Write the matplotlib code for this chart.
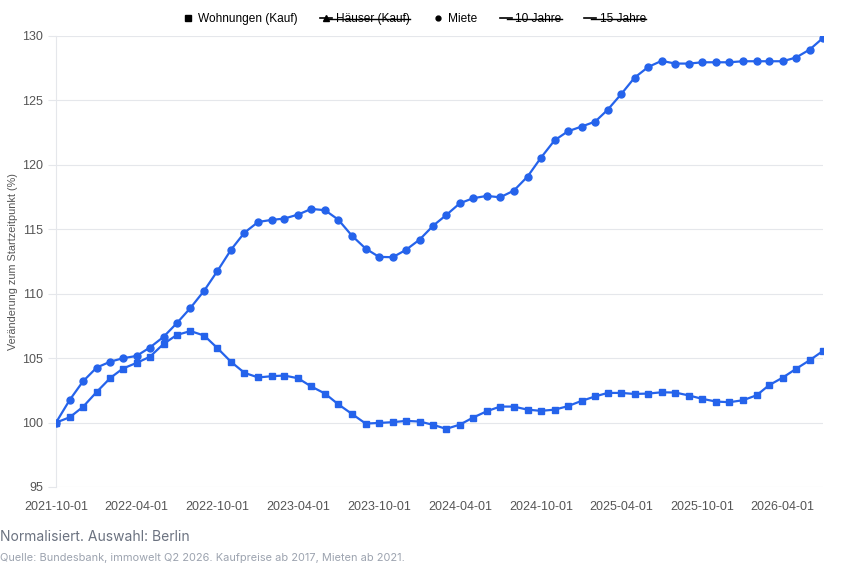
import matplotlib
matplotlib.use('Agg')
import matplotlib.pyplot as plt
import matplotlib.dates as mdates
from matplotlib.lines import Line2D
import pandas as pd

# monthly values, 2021-10 .. 2026-07, normalised to 100 at start
start = '2021-10-01'
n_months = 58

wohnungen = [100.0, 100.41, 101.22, 102.38, 103.47, 104.19, 104.63, 105.1, 106.1, 106.8,
             107.1, 106.75, 105.77, 104.7, 103.86, 103.5, 103.6, 103.65, 103.44, 102.8,
             102.25, 101.42, 100.67, 99.92, 99.97, 100.03, 100.13, 100.08, 99.82, 99.51,
             99.84, 100.39, 100.88, 101.24, 101.24, 101.0, 100.91, 101.0, 101.27, 101.68,
             102.03, 102.3, 102.3, 102.22, 102.25, 102.35, 102.33, 102.1, 101.84, 101.63,
             101.58, 101.73, 102.12, 102.9, 103.49, 104.17, 104.84, 105.56]

miete = [100.0, 101.76, 103.2, 104.27, 104.73, 104.99, 105.17, 105.82, 106.65, 107.71,
         108.9, 110.24, 111.77, 113.43, 114.74, 115.57, 115.73, 115.83, 116.14, 116.58,
         116.48, 115.75, 114.5, 113.5, 112.86, 112.83, 113.4, 114.2, 115.29, 116.1,
         117.02, 117.41, 117.59, 117.48, 118.0, 119.09, 120.54, 121.9, 122.6, 122.97,
         123.36, 124.27, 125.5, 126.77, 127.6, 128.07, 127.86, 127.86, 127.96, 127.96,
         127.96, 128.04, 128.04, 128.04, 128.04, 128.33, 128.95, 129.85]

legend_labels = ['Wohnungen (Kauf)', 'Häuser (Kauf)', 'Miete', '10 Jahre', '15 Jahre']
hidden = ['Häuser (Kauf)', '10 Jahre', '15 Jahre']
y_ticks = [95, 100, 105, 110, 115, 120, 125, 130]

dates = pd.date_range(start, periods=n_months, freq='MS')
tick_dates = pd.date_range(start, '2026-04-01', freq='6MS')

BLUE = '#2563eb'
GRID = '#e5e7eb'
TICK = '#555555'

plt.rcParams['font.family'] = ['Liberation Sans', 'DejaVu Sans']

fig = plt.figure(figsize=(8.49, 5.66), dpi=100)
ax = fig.add_axes([0.066, 0.1396, 0.9034, 0.7968])

ax.plot(dates, wohnungen, color=BLUE, lw=1.6, marker='s', ms=4.3, zorder=3)
ax.plot(dates, miete, color=BLUE, lw=1.6, marker='o', ms=5, zorder=3)

ax.set_xlim(dates[0], dates[-1])
ax.set_ylim(95, 130)
ax.set_yticks(y_ticks)
ax.set_xticks(tick_dates)
ax.xaxis.set_major_formatter(mdates.DateFormatter('%Y-%m-%d'))

ax.grid(axis='y', color=GRID, lw=0.8)
ax.set_axisbelow(True)
for s in ['top', 'right', 'bottom']:
    ax.spines[s].set_visible(False)
ax.spines['left'].set_color(GRID)
ax.tick_params(axis='y', colors=GRID, labelcolor=TICK, labelsize=9, length=6, width=0.8)
ax.tick_params(axis='x', length=0, labelcolor=TICK, labelsize=9, pad=10)
ax.set_ylabel('Veränderung zum Startzeitpunkt (%)', fontsize=7.8, color=TICK, labelpad=3)

# legend: black handles, hidden series struck through
handles = [
    Line2D([], [], ls='none', marker='s', ms=4, color='black'),
    Line2D([], [], color='black', lw=1.2, marker='^', ms=5),
    Line2D([], [], ls='none', marker='o', ms=3.5, color='black'),
    Line2D([], [], color='black', lw=1.2),
    Line2D([], [], color='black', lw=1.2),
]
leg = fig.legend(handles, legend_labels, loc='center', bbox_to_anchor=(0.488, 0.966),
                 ncol=5, frameon=False, fontsize=8.6, handlelength=1.0, handletextpad=0.3,
                 columnspacing=1.9)

fig.canvas.draw()
renderer = fig.canvas.get_renderer()
inv = fig.transFigure.inverted()
for txt in leg.get_texts():
    if txt.get_text() in hidden:
        bb = txt.get_window_extent(renderer)
        (x0, y0), (x1, y1) = inv.transform([[bb.x0, bb.y0], [bb.x1, bb.y1]])
        ym = (y0 + y1) / 2
        fig.add_artist(Line2D([x0 - 0.01, x1], [ym, ym], color='black', lw=1.0,
                              transform=fig.transFigure))

fig.text(0.0, 0.051, 'Normalisiert. Auswahl: Berlin', fontsize=10, color='#6b7280',
         family=['Inter', 'DejaVu Sans'], va='center')
fig.text(0.0, 0.014, 'Quelle: Bundesbank, immowelt Q2 2026. Kaufpreise ab 2017, Mieten ab 2021.',
         fontsize=7.9, color='#9ca3af', family=['Inter', 'DejaVu Sans'], va='center')

fig.savefig('out.png', dpi=100)
